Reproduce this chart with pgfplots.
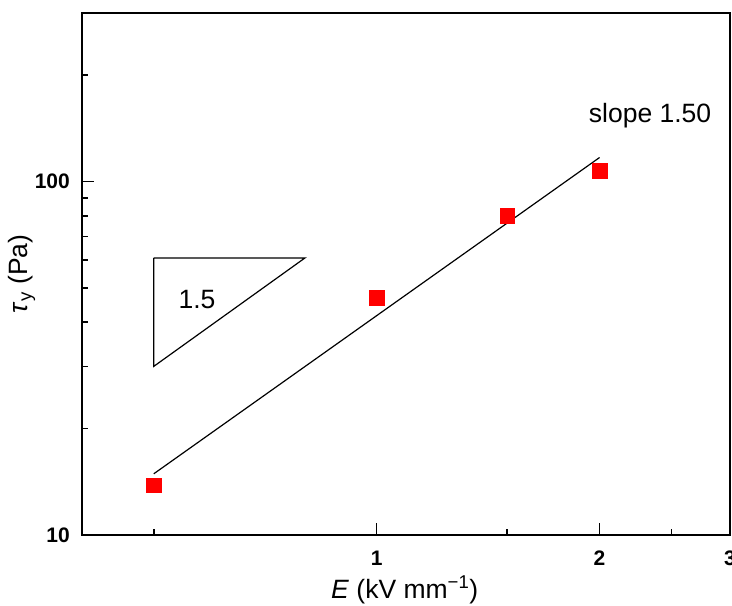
\documentclass[border=0pt]{standalone}
\usepackage{fontspec}
\setmainfont{Liberation Sans}
\usepackage{pgfplots}
\pgfplotsset{compat=1.18}
\begin{document}
\fontsize{21}{25}\selectfont
\begin{tikzpicture}
\begin{axis}[
 scale only axis, width=648pt, height=522pt,
 xmode=log, ymode=log,
 xmin=0.4, xmax=3, ymin=10, ymax=300,
 xtick={1,2,3}, xticklabels={1,2,3},
 minor xtick={0.5,1.5,2.5},
 ytick={10,100}, yticklabels={10,100},
 minor ytick={20,30,40,50,60,70,80,90,200,300},
 tick align=inside, xtick pos=bottom, ytick pos=left,
 major tick length=12pt, minor tick length=6pt,
 every tick/.style={black, line width=1.5pt},
 axis line style={line width=2pt},
 ticklabel style={font=\fontsize{21}{25}\selectfont\bfseries},
 xticklabel style={yshift=-9pt},
 yticklabel style={xshift=-5pt},
 /pgf/number format/assume math mode=true,
 xlabel={\textit{E} (kV mm\textsuperscript{−1})},
 ylabel={\textit{τ}\textsubscript{y} (Pa)},
 label style={font=\fontsize{26.5}{30}\selectfont},
 xlabel style={at={(axis description cs:0.498,0)}, anchor=base, yshift=-63pt},
 ylabel style={at={(axis description cs:-0.093,0.5)}, anchor=center},
 clip=false,
]
\addplot[black, line width=1.2pt] coordinates {(0.5,14.9) (2,117)};
\addplot[black, line width=1.2pt] coordinates {(0.5,60.8) (0.8,60.8) (0.5,30) (0.5,60.8)};
\addplot[only marks, mark=square*, mark size=7.3pt, color=red, mark options={fill=red, draw=red}] coordinates {(0.5,13.85) (1,46.9) (1.5,80.0) (2,107.2)};
\node[font=\fontsize{26.5}{30}\selectfont] at (axis cs:0.572,46.3) {1.5};
\node[font=\fontsize{26.5}{30}\selectfont] at (axis cs:2.34,153.5) {slope 1.50};
\end{axis}
\pgfresetboundingbox
\path[use as bounding box] ([shift={(-82pt,-70pt)}]current axis.south west) rectangle ([shift={(2pt,13pt)}]current axis.north east);
\end{tikzpicture}
\end{document}
